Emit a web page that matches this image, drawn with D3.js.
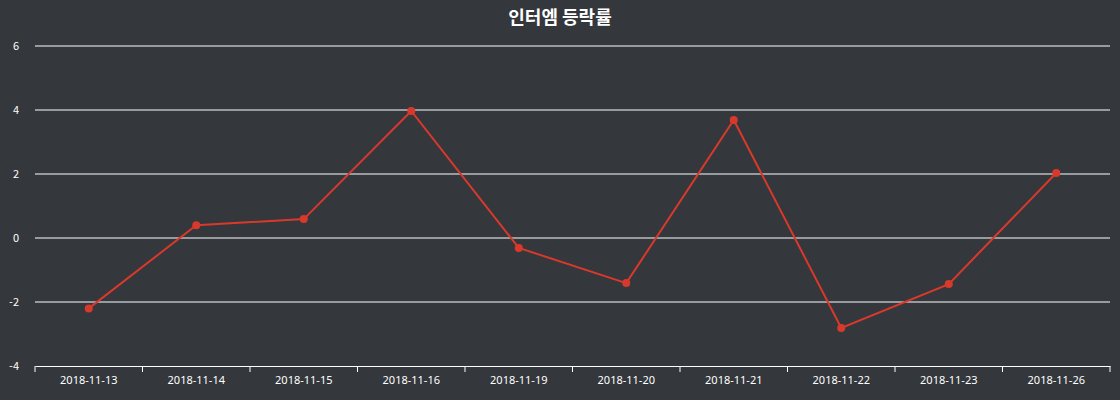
<!DOCTYPE html>
<html><head><meta charset="utf-8">
<script src="https://cdn.jsdelivr.net/npm/d3@7"></script>
<style>body{margin:0;background:#34373c;}svg{display:block;font-family:"Noto Sans CJK KR","Noto Sans",sans-serif;}</style>
</head><body>
<svg id="chart" width="1120" height="400"></svg>
<script>
const dates = ['2018-11-13','2018-11-14','2018-11-15','2018-11-16','2018-11-19','2018-11-20','2018-11-21','2018-11-22','2018-11-23','2018-11-26'];
const rates = [-2.2, 0.4, 0.59, 3.97, -0.31, -1.41, 3.69, -2.81, -1.44, 2.03];
const yTicks = [-4, -2, 0, 2, 4, 6];

const svg = d3.select('#chart');
const plotLeft = 35, plotRight = 1110, plotTop = 46, plotBottom = 366;

svg.append('rect').attr('width', 1120).attr('height', 400).attr('fill', '#34373c');

const x = d3.scaleBand().domain(dates).range([plotLeft, plotRight]);
const y = d3.scaleLinear().domain([-4, 6]).range([plotBottom, plotTop]);

// grid
svg.append('g').selectAll('line').data(yTicks.filter(d => d !== -4)).join('line')
    .attr('x1', plotLeft).attr('x2', plotRight)
    .attr('y1', d => y(d)).attr('y2', d => y(d))
    .attr('stroke', '#ffffff').attr('stroke-width', 1);

svg.append('g').selectAll('text').data(yTicks).join('text')
    .attr('x', 19).attr('y', d => y(d) + 4)
    .attr('text-anchor', 'end').attr('fill', '#ffffff').attr('font-size', 11)
    .text(d => d);

// x axis
const xAxis = svg.append('g').attr('transform', `translate(0,${plotBottom})`)
    .call(d3.axisBottom(x).tickSize(0).tickPadding(10));
xAxis.select('.domain').attr('stroke', '#ffffff');
xAxis.selectAll('text').attr('fill', '#ffffff').attr('font-size', 11).attr('font-family', '"Noto Sans",sans-serif');
svg.append('g').selectAll('line').data(d3.range(dates.length + 1)).join('line')
    .attr('x1', i => plotLeft + i * x.step()).attr('x2', i => plotLeft + i * x.step())
    .attr('y1', plotBottom).attr('y2', plotBottom + 6)
    .attr('stroke', '#ffffff');

// line
const cx = d => x(d) + x.bandwidth() / 2;
svg.append('path').datum(rates)
    .attr('fill', 'none').attr('stroke', '#d9392b').attr('stroke-width', 2)
    .attr('d', d3.line().x((d, i) => cx(dates[i])).y(d => y(d)));
svg.append('g').selectAll('circle').data(rates).join('circle')
    .attr('cx', (d, i) => cx(dates[i])).attr('cy', d => y(d)).attr('r', 4)
    .attr('fill', '#d9392b');

svg.append('text').attr('x', 560).attr('y', 24).attr('text-anchor', 'middle')
    .attr('fill', '#ffffff').attr('font-size', 18).attr('font-weight', 'bold')
    .text('인터엠 등락률');
</script>
</body></html>
